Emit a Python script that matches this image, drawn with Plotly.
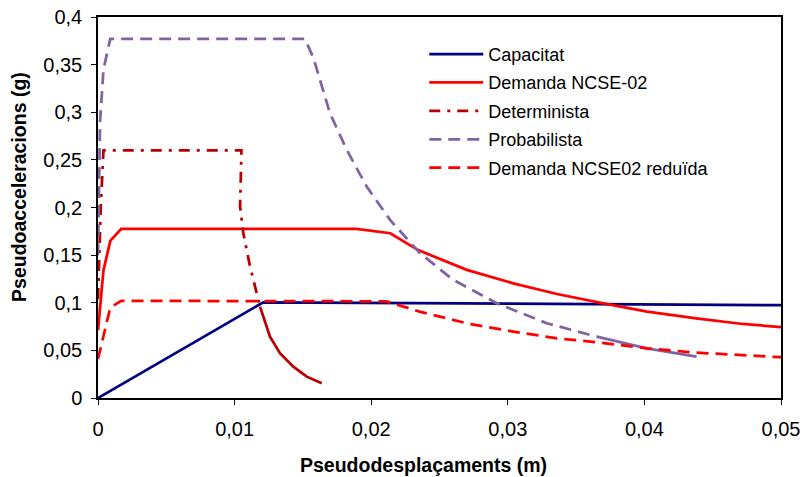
import plotly.graph_objects as go

# ---- data ----
cap_x = [0.0, 0.0121, 0.05]
cap_y = [0.0, 0.1005, 0.0975]

dem_x = [0.0, 0.0004, 0.0009, 0.0017, 0.0189, 0.0214, 0.0234, 0.0270, 0.0304, 0.0336, 0.0370, 0.0402, 0.0438, 0.0472, 0.0500]
dem_y = [0.071, 0.134, 0.165, 0.1775, 0.1775, 0.173, 0.1555, 0.1345, 0.1204, 0.1092, 0.0994, 0.0907, 0.0837, 0.0777, 0.0745]

det_x = [0.0, 0.0002, 0.0004, 0.0105, 0.01045, 0.0104, 0.01064, 0.01113, 0.01162, 0.01186, 0.01259, 0.01332, 0.0143, 0.01528, 0.01638]
det_y = [0.104, 0.20, 0.26, 0.26, 0.229, 0.201, 0.173, 0.138, 0.110, 0.0959, 0.0644, 0.047, 0.0329, 0.0224, 0.0154]
det_split = 9  # index where the curve becomes a continuous line

prob_x = [0.0, 0.00015, 0.0004, 0.0009, 0.01515, 0.01577, 0.01698, 0.01821, 0.01967, 0.02138, 0.02357, 0.02601, 0.02919, 0.03285, 0.03651, 0.04017, 0.04382]
prob_y = [0.15, 0.29, 0.345, 0.377, 0.377, 0.357, 0.299, 0.2605, 0.222, 0.187, 0.152, 0.124, 0.0995, 0.0785, 0.0644, 0.0522, 0.0434]
prob_split = 14

red_x = [0.0, 0.0009, 0.0017, 0.0211, 0.0236, 0.0272, 0.0304, 0.0336, 0.0368, 0.0402, 0.0438, 0.0500]
red_y = [0.041, 0.095, 0.102, 0.1015, 0.0905, 0.0777, 0.0697, 0.0627, 0.0581, 0.0522, 0.0476, 0.0428]

x_ticks = [0, 0.01, 0.02, 0.03, 0.04, 0.05]
x_labels = ["0", "0,01", "0,02", "0,03", "0,04", "0,05"]
y_ticks = [0, 0.05, 0.1, 0.15, 0.2, 0.25, 0.3, 0.35, 0.4]
y_labels = ["0", "0,05", "0,1", "0,15", "0,2", "0,25", "0,3", "0,35", "0,4"]

FONT = "Liberation Sans, Arial, sans-serif"
W = 2.75

fig = go.Figure()
fig.add_trace(go.Scatter(x=cap_x, y=cap_y, mode="lines", name="Capacitat",
                         legendgroup="a", line=dict(color="#000080", width=W)))
fig.add_trace(go.Scatter(x=dem_x, y=dem_y, mode="lines", name="Demanda NCSE-02",
                         legendgroup="b", line=dict(color="#FF0000", width=W)))
fig.add_trace(go.Scatter(x=det_x[:det_split + 1], y=det_y[:det_split + 1], mode="lines",
                         name="Determinista", legendgroup="c",
                         line=dict(color="#B80000", width=W, dash="11px,7px,3px,7px")))
fig.add_trace(go.Scatter(x=det_x[det_split:], y=det_y[det_split:], mode="lines",
                         name="Determinista", legendgroup="c", showlegend=False,
                         line=dict(color="#B80000", width=W)))
fig.add_trace(go.Scatter(x=prob_x[:prob_split + 1], y=prob_y[:prob_split + 1], mode="lines",
                         name="Probabilista", legendgroup="d",
                         line=dict(color="#8064A2", width=W, dash="12px,7px")))
fig.add_trace(go.Scatter(x=prob_x[prob_split:], y=prob_y[prob_split:], mode="lines",
                         name="Probabilista", legendgroup="d", showlegend=False,
                         line=dict(color="#8064A2", width=W)))
fig.add_trace(go.Scatter(x=red_x, y=red_y, mode="lines", name="Demanda NCSE02 reduïda",
                         legendgroup="e", line=dict(color="#FF0000", width=W, dash="12px,7px")))

axis_common = dict(showline=True, linecolor="black", linewidth=1.5, mirror=True,
                   ticks="outside", ticklen=5, tickwidth=1, tickcolor="black",
                   showgrid=False, zeroline=False, automargin=False,
                   tickfont=dict(family=FONT, size=20, color="black"))

fig.update_xaxes(range=[0, 0.05], tickvals=x_ticks, ticktext=x_labels,
                 ticklabelstandoff=7, **axis_common)
fig.update_yaxes(range=[0, 0.4], tickvals=y_ticks, ticktext=y_labels,
                 ticklabelstandoff=5, **axis_common)

fig.update_layout(
    width=803, height=477,
    margin=dict(l=98, r=22, t=17, b=79, pad=0, autoexpand=False),
    paper_bgcolor="white", plot_bgcolor="white",
    font=dict(family=FONT, color="black"),
    showlegend=True,
    legend=dict(x=0.4777, y=0.9505, xanchor="left", yanchor="top",
                font=dict(family=FONT, size=18, color="black"),
                bgcolor="rgba(0,0,0,0)", borderwidth=0,
                traceorder="grouped", tracegroupgap=2, itemwidth=54),
    annotations=[
        dict(text="<b>Pseudoacceleracions (g)</b>", xref="paper", yref="paper",
             x=-0.1157, y=0.554, textangle=-90, showarrow=False,
             xanchor="center", yanchor="middle",
             font=dict(family=FONT, size=19.5, color="black")),
        dict(text="<b>Pseudodesplaçaments (m)</b>", xref="paper", yref="paper",
             x=0.4773, y=-0.176, showarrow=False,
             xanchor="center", yanchor="middle",
             font=dict(family=FONT, size=19.5, color="black")),
    ],
)

fig.write_html("out.html")
